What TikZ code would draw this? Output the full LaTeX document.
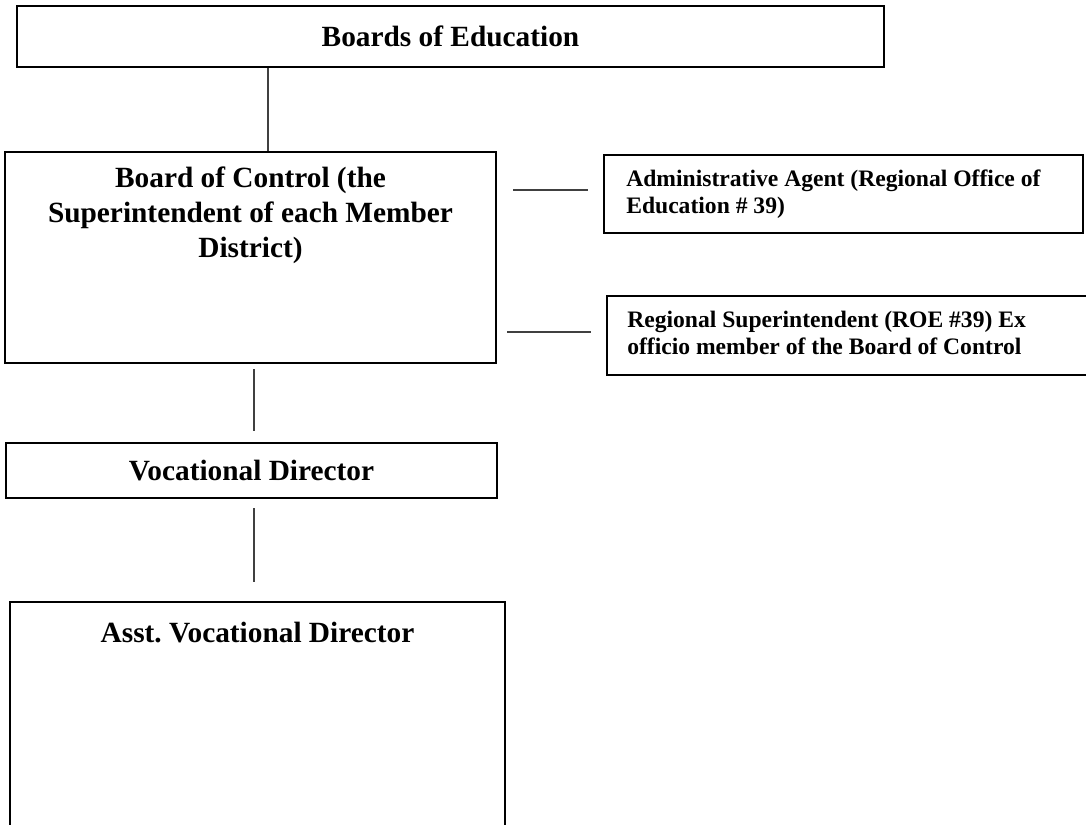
\documentclass[tikz,border=0pt]{standalone}
\usepackage{fontspec}
\setmainfont{Liberation Serif}
\frenchspacing
\begin{document}
\begin{tikzpicture}[x=0.75pt,y=-0.75pt,
  box/.style={draw=black, line width=1.5pt, rectangle, inner sep=0pt, fill=white},
  bigtext/.style={font=\bfseries\fontsize{22}{26.25}\selectfont, align=center, inner sep=0pt},
  smalltext/.style={font=\bfseries\fontsize{17.7}{20.25}\selectfont, align=left, inner sep=0pt},
  conn/.style={draw=black!75, line width=0.8pt}]
\useasboundingbox (0,0) rectangle (1086,825);
\clip (0,0) rectangle (1086,825);
\fill[white] (0,0) rectangle (1086,825);

\node[box, bigtext, minimum width=650.25pt, minimum height=45.75pt] (top) at (450.5,36.5) {Boards of Education};

\node[box, minimum width=368.25pt, minimum height=158.25pt,
  label={[bigtext, name=boctext, anchor=north, yshift=-12pt]north:{Board of Control (the\\Superintendent of each Member\\District)}}] (boc) at (250.5,257.5) {};

\node[box, minimum width=359.25pt, minimum height=58.5pt,
  label={[smalltext, name=admintext, anchor=north west, xshift=17.25pt, yshift=-11.7pt]north west:{Administrative Agent (Regional Office of\\Education \# 39)}}] (admin) at (843.5,194) {};

\node[box, minimum width=366pt, minimum height=59.25pt,
  label={[smalltext, name=regtext, anchor=north west, xshift=15.75pt, yshift=-11.7pt]north west:{Regional Superintendent (ROE \#39) Ex\\officio member of the Board of Control}}] (reg) at (851,335.5) {};

\node[box, bigtext, minimum width=368.25pt, minimum height=41.25pt] (voc) at (251.5,470.5) {Vocational Director};

\node[box, minimum width=371.25pt, minimum height=223.5pt,
  label={[bigtext, name=assttext, anchor=north, yshift=-15.75pt]north:{Asst.\ Vocational Director}}] (asst) at (257.5,751) {};

\coordinate (c1) at (268,0);
\coordinate (c2) at (254,0);
\coordinate (h1) at (0,190);
\coordinate (h2) at (0,332);

\draw[conn] (top.south -| c1) -- (boc.north -| c1);
\draw[conn] ([yshift=-3.75pt]boc.south -| c2) -- ([yshift=8.25pt]voc.north -| c2);
\draw[conn] ([yshift=-6.75pt]voc.south -| c2) -- ([yshift=14.25pt]asst.north -| c2);
\draw[conn] ([xshift=12pt]boc.east |- h1) -- ([xshift=-11.25pt]admin.west |- h1);
\draw[conn] ([xshift=7.5pt]boc.east |- h2) -- ([xshift=-11.25pt]reg.west |- h2);
\end{tikzpicture}
\end{document}
